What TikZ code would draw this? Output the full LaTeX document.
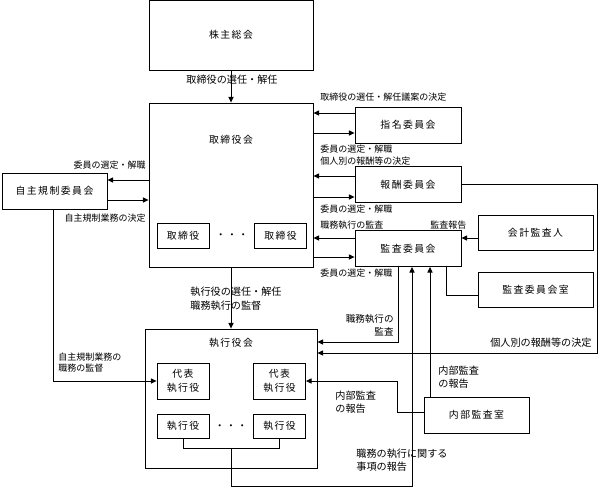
\documentclass[tikz,border=0pt]{standalone}
\usepackage{fontspec}
\setmainfont{Noto Sans CJK JP}
\newfontfamily\boxfont[LetterSpace=15]{Noto Sans CJK JP}
\usetikzlibrary{positioning}
\usetikzlibrary{arrows.meta}
\tikzset{>={Triangle[length=4pt,width=3.6pt]}}
\tikzset{boxtext/.style={inner sep=0pt,align=center,font=\boxfont\fontsize{7}{10}\selectfont}}
\tikzset{org/.style={boxtext,draw,minimum width=2.65cm,minimum height=0.9cm}}
\tikzset{mem/.style={org,minimum width=1.3cm,minimum height=0.625cm}}
\tikzset{ed/.style={inner sep=0pt,align=left,font=\fontsize{6.4}{8.8}\selectfont}}
\tikzset{edl/.style={ed,font=\fontsize{7.2}{9}\selectfont}}

\begin{document}
\begin{tikzpicture}[x=0.025cm,y=-0.025cm,line width=0.6pt]
        \useasboundingbox (0,0) rectangle (600,489);

        % board side
        \node[org,minimum width=4.1cm,minimum height=1.75cm] (sh) at (231,35) {株主総会};
        \node[draw,minimum width=4.1cm,minimum height=4.1cm] (bod) at (231,185) {};
        \node[boxtext] (bodt) at (231,140) {取締役会};
        \node[mem] (d1) at (183,235.5) {取締役};
        \node[mem] (d2) at (280.5,235.5) {取締役};
        \node[boxtext] (ddots) at (232,236) {・・・};

        % executive side
        \node[draw,minimum width=4.3cm,minimum height=3.475cm] (exec) at (231,398.5) {};
        \node[boxtext] (exect) at (231,343) {執行役会};
        \node[mem,minimum height=0.9cm] (rep1) at (183,381) {代表\\執行役};
        \node[mem,minimum height=0.9cm] (rep2) at (279.5,381) {代表\\執行役};
        \node[mem,minimum height=0.6cm] (ex1) at (183,426) {執行役};
        \node[mem,minimum height=0.6cm] (ex2) at (279.5,426) {執行役};
        \node[boxtext] (edots) at (231,427) {・・・};

        % committees
        \node[org] (nom) at (408,125) {指名委員会};
        \node[org] (comp) at (408,184.5) {報酬委員会};
        \node[org] (aud) at (408,248.5) {監査委員会};
        \node[org,minimum width=2.875cm,minimum height=0.875cm] (acc) at (535.5,232.5) {会計監査人};
        \node[org,minimum width=2.875cm,minimum height=0.875cm] (audoff) at (535.5,289.5) {監査委員会室};
        \node[org,minimum width=2.625cm] (self) at (54.5,191) {自主規制委員会};
        \node[org,minimum width=2.625cm] (int) at (476.5,415) {内部監査室};

        \draw[->] (sh) -- (bod);
        \node[edl] (l1) at (232,80) {取締役の選任・解任};

        \draw[->] (nom.west |- 0,113) -- (bod.east |- 0,113);
        \draw[->] (bod.east |- 0,133) -- (nom.west |- 0,133);
        \draw[->] (comp.west |- 0,176) -- (bod.east |- 0,176);
        \draw[->] (bod.east |- 0,197) -- (comp.west |- 0,197);
        \draw[->] (aud.west |- 0,238) -- (bod.east |- 0,238);
        \draw[->] (bod.east |- 0,257) -- (aud.west |- 0,257);
        \draw[->] (acc.west |- 0,238) -- (aud.east |- 0,238);
        \draw (aud.south -| 446,0) |- (audoff.west |- 0,295);

        \node[ed,anchor=west] (l2) at (320,97) {取締役の選任・解任議案の決定};
        \node[ed,anchor=west] (l3) at (320,149) {委員の選定・解職};
        \node[ed,anchor=west] (l4) at (320,161) {個人別の報酬等の決定};
        \node[ed,anchor=west] (l5) at (320,209) {委員の選定・解職};
        \node[ed,anchor=west] (l6) at (320,225) {職務執行の監査};
        \node[ed,anchor=west] (l7) at (430,225) {監査報告};
        \node[ed,anchor=west] (l8) at (320,273) {委員の選定・解職};

        \draw[->] (bod.west |- 0,180) -- (self.east |- 0,180);
        \draw[->] (self.east |- 0,200) -- (bod.west |- 0,200);
        \draw[->] (self.south -| 53,0) |- (rep1.west);
        \node[ed,anchor=east] (l9) at (146,165) {委員の選定・解職};
        \node[ed,anchor=east] (l10) at (146,218) {自主規制業務の決定};
        \node[ed,anchor=west,font=\fontsize{6.4}{7.8}\selectfont] (l11) at (58,363) {自主規制業務の\\職務の監督};

        \draw[->] (bod) -- (exec);
        \node[edl,anchor=west,font=\fontsize{7.2}{10}\selectfont] (l12) at (190,299) {執行役の選任・解任\\職務執行の監督};

        \draw[->] (comp.east) -- (comp.east -| 597,0) |- (exec.east |- 0,353);
        \node[edl,anchor=east] (l13) at (592,343) {個人別の報酬等の決定};
        \draw[->] (aud.south -| 398,0) |- (exec.east |- 0,342);
        \node[ed,anchor=east,align=right,font=\fontsize{6.8}{9}\selectfont] (l14) at (394,325) {職務執行の\\監査};

        \draw[->] (int.north -| 430,0) -- (aud.south -| 430,0);
        \node[edl,anchor=west] (l15) at (438,377) {内部監査\\の報告};
        \draw[->] (int.west |- 0,412) -| (rep2.east -| 397,0) -- (rep2.east);
        \node[edl,anchor=west] (l16) at (335,402) {内部監査\\の報告};

        \draw (ex1.south) -- ++(0,10) -| (ex2.south);
        \coordinate (exj) at (exec.center |- 0,448);
        \draw[->] (exj) -- (exj |- 0,486) -| (aud.south -| 412,0);
        \node[edl,anchor=west] (l17) at (356,460) {職務の執行に関する\\事項の報告};

\end{tikzpicture}
\end{document}
